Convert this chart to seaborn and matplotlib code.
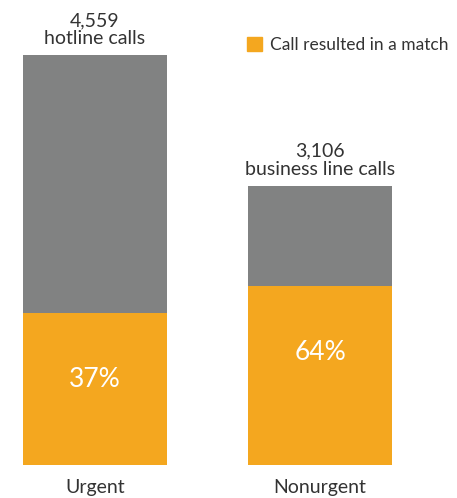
import matplotlib
matplotlib.use("Agg")
import matplotlib.pyplot as plt
from matplotlib.patches import Patch
import seaborn as sns
import pandas as pd

# data
categories = ["Urgent", "Nonurgent"]
total_calls = [4559, 3106]
match_share = [0.37, 0.64]
call_kinds = ["hotline calls", "business line calls"]

GREY = "#818282"
ORANGE = "#F4A71F"
TEXT = "#333333"

sns.set_theme(style="white")
plt.rcParams["font.family"] = ["Lato", "DejaVu Sans"]

df = pd.DataFrame({
    "category": categories,
    "total": total_calls,
    "matched": [t * s for t, s in zip(total_calls, match_share)],
})

W, H = 457, 498
fig = plt.figure(figsize=(W / 100, H / 100), dpi=100)
ax = fig.add_axes([0, (H - 465) / H, 1, 465 / H])

sns.barplot(data=df, x="category", y="total", color=GREY, width=0.64,
            saturation=1, linewidth=0, ax=ax)
sns.barplot(data=df, x="category", y="matched", color=ORANGE, width=0.64,
            saturation=1, linewidth=0, ax=ax)

ymax = 4559 * 465 / 410
ax.set_ylim(0, ymax)
ax.set_xlim(-95 / 225, 1 + (W - 320) / 225)
unit = ymax / 465  # data units per pixel

for i, (tot, m, kind) in enumerate(zip(df["total"], df["matched"], call_kinds)):
    ax.text(i, tot + 8 * unit, f"{tot:,}\n{kind}", ha="center", va="bottom",
            fontsize=14, color=TEXT, linespacing=1.08)
    ax.text(i, m - 66 * unit, f"{round(match_share[i] * 100)}%", ha="center",
            va="center", fontsize=19, color="white")

for s in ax.spines.values():
    s.set_visible(False)
ax.set_yticks([])
ax.set_xlabel("")
ax.set_ylabel("")
ax.tick_params(axis="x", length=0, pad=10, labelsize=14, labelcolor=TEXT)

fig.legend(handles=[Patch(color=ORANGE, label="Call resulted in a match")],
           loc="upper left", bbox_to_anchor=(247 / W, 1 - 37 / H),
           frameon=False, fontsize=12.5, handlelength=0.85, handleheight=0.85,
           handletextpad=0.45, borderpad=0, borderaxespad=0, labelcolor=TEXT)

fig.savefig("out.png", dpi=100)
